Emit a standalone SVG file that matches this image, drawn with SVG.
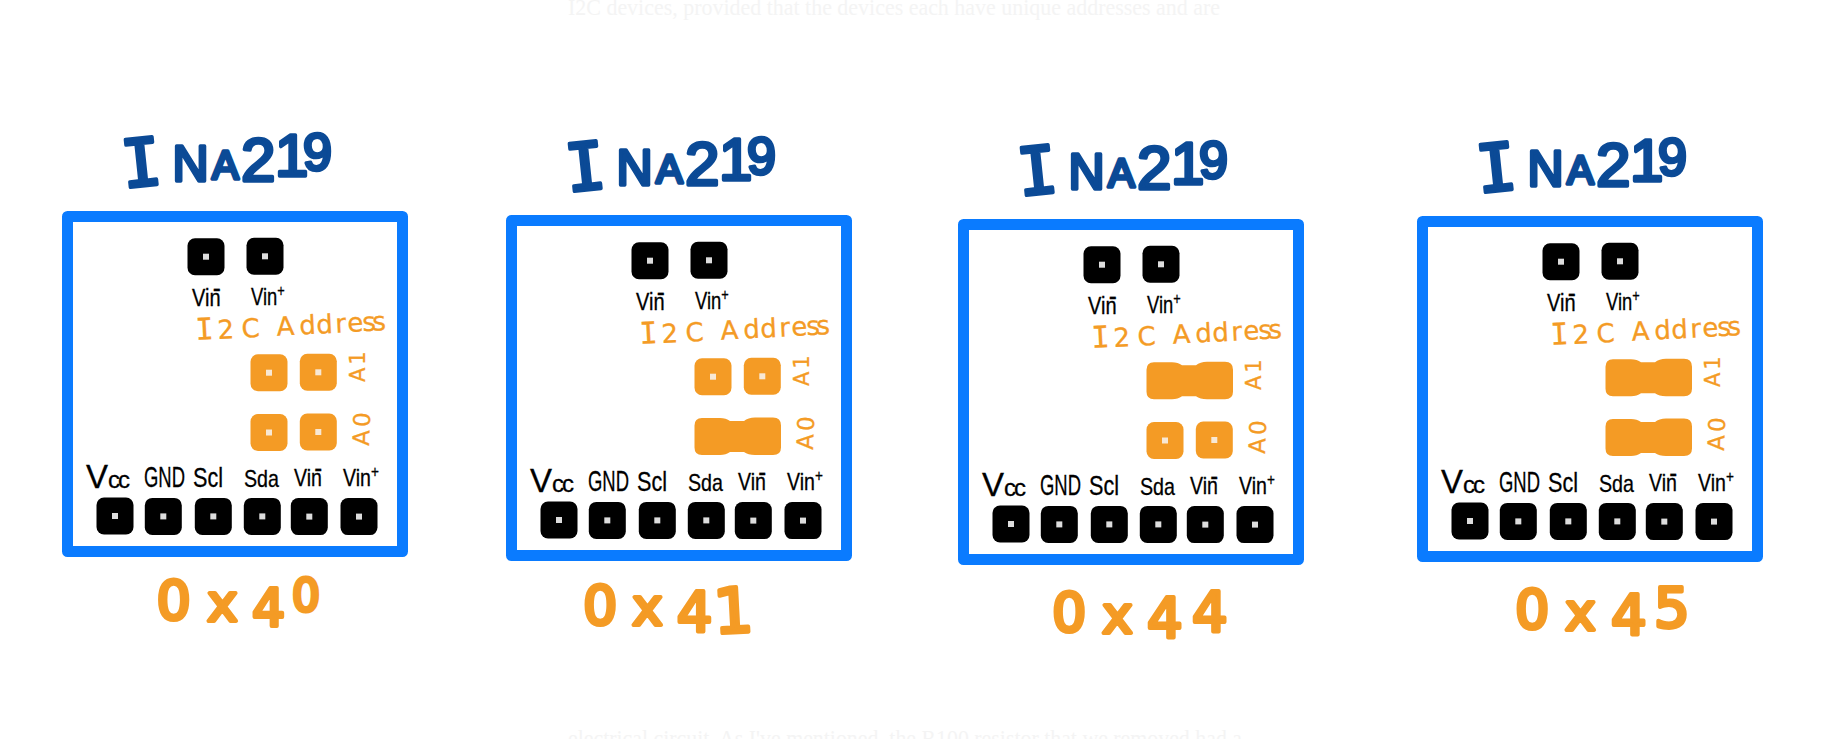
<svg xmlns="http://www.w3.org/2000/svg" width="1848" height="739" viewBox="0 0 1848 739">
<style>
text{font-family:"Liberation Sans",Arial,sans-serif}
.faint{font-family:"Liberation Serif","Times New Roman",serif;font-size:23px;fill:#f4f4f4}
.board{fill:#fff;stroke:#0a7bff;stroke-width:11;stroke-linejoin:round}
.title{fill:#0b4a96;stroke:#0b4a96;stroke-width:3.5;stroke-linejoin:round}
.addr{font-family:"DejaVu Sans",sans-serif;fill:#f49b25;stroke:#f49b25;stroke-width:4;stroke-linejoin:round}
.mono{font-family:"DejaVu Sans Mono",monospace}
.lbl{fill:#000;stroke:#000;stroke-width:.3}
.sup{font-size:16px}
.mn{font-size:28px}
.i2c{font-family:"DejaVu Sans",sans-serif;fill:#f49b25;font-size:26px;stroke:#f49b25;stroke-width:.3}
.ax{font-family:"DejaVu Sans",sans-serif;fill:#f49b25;stroke:#f49b25;stroke-width:.3;letter-spacing:3px}
</style>
<defs>
<g id="padB"><rect x="-18.5" y="-18.5" width="37" height="37" rx="7.5" fill="#000"/><rect x="-3" y="-3" width="6" height="6" fill="#ddd"/></g>
<g id="padO"><rect x="-18.5" y="-18.5" width="37" height="37" rx="7.5" fill="#f49b25"/><rect x="-3" y="-3" width="6" height="6" fill="#f8e8d4"/></g>
<path id="jump" fill="#f49b25" d="M-11,-18.5H7Q13,-18.5 17,-15.5H31Q35,-19 42,-19H60Q68,-19 68,-11V11Q68,18.5 60,18.5H42Q35,18.5 31,15.5H17Q13,18.5 7,18.5H-11Q-18.5,18.5 -18.5,11V-11Q-18.5,-18.5 -11,-18.5Z"/>
</defs>
<rect width="1848" height="739" fill="#fff"/>
<text class="faint" x="568" y="15" textLength="652" lengthAdjust="spacingAndGlyphs">I2C devices, provided that the devices each have unique addresses and are</text>
<text class="faint" x="568" y="746" textLength="674" lengthAdjust="spacingAndGlyphs">electrical circuit. As I've mentioned, the R100 resistor that we removed had a</text>

<g id="connectors"/>

<g id="board-0x40">
<rect class="board" x="67.5" y="216.5" width="335" height="335"/>
<text class="title"><tspan class="mono" x="124" y="188" font-size="66" rotate="-6">I</tspan><tspan x="172.5" y="181" font-size="50">N</tspan><tspan x="212" y="179" font-size="40">A</tspan><tspan x="241" y="181" font-size="62">2</tspan><tspan x="275" y="176" font-size="60">1</tspan><tspan x="303" y="170" font-size="52">9</tspan></text>
<use href="#padB" x="206" y="256.7"/><use href="#padB" x="265" y="256.3"/>
<text class="lbl" font-size="23" transform="translate(192,306) scale(.87,1)">Vin<tspan class="mn" dx="-9" dy="-9">-</tspan></text>
<text class="lbl" font-size="23" transform="translate(251,305) scale(.8,1)">Vin<tspan class="sup" dy="-9">+</tspan></text>
<text class="i2c" transform="translate(197,340) rotate(-3)" x="-1 21 45 70 80 103 120 139 151 166 176"><tspan class="mono" font-size="30">I</tspan>2C Address</text>
<text class="ax" font-size="21" transform="translate(365,382) rotate(-90)">A1</text>
<text class="ax" font-size="23" transform="translate(369,446) rotate(-88)">A0</text>
<use href="#padO" x="269" y="372.7"/><use href="#padO" x="318.3" y="372.3"/>
<use href="#padO" x="269" y="432.5"/><use href="#padO" x="318.3" y="432"/>
<text class="lbl" font-size="24" x="86 108 118" y="488"><tspan font-size="33">V</tspan>cc</text>
<text class="lbl" x="144" y="487" font-size="30" textLength="41" lengthAdjust="spacingAndGlyphs">GND</text>
<text class="lbl" x="193" y="487" font-size="27" textLength="30" lengthAdjust="spacingAndGlyphs">Scl</text>
<text class="lbl" x="244" y="487" font-size="24" textLength="35" lengthAdjust="spacingAndGlyphs">Sda</text>
<text class="lbl" font-size="23" transform="translate(294,486) scale(.85,1)">Vin<tspan class="mn" dx="-9" dy="-9">-</tspan></text>
<text class="lbl" font-size="23" transform="translate(343,486) scale(.85,1)">Vin<tspan class="sup" dy="-9">+</tspan></text>
<use href="#padB" x="115" y="516"/><use href="#padB" x="163.3" y="516.4"/><use href="#padB" x="213.3" y="516.4"/><use href="#padB" x="262.3" y="516.4"/><use href="#padB" x="309.3" y="516.6"/><use href="#padB" x="359" y="516.6"/>
</g>

<g id="board-0x41" transform="translate(444,4)">
<rect class="board" x="67.5" y="216.5" width="335" height="335"/>
<text class="title"><tspan class="mono" x="124" y="188" font-size="66" rotate="-6">I</tspan><tspan x="172.5" y="181" font-size="50">N</tspan><tspan x="212" y="179" font-size="40">A</tspan><tspan x="241" y="181" font-size="62">2</tspan><tspan x="275" y="176" font-size="60">1</tspan><tspan x="303" y="170" font-size="52">9</tspan></text>
<use href="#padB" x="206" y="256.7"/><use href="#padB" x="265" y="256.3"/>
<text class="lbl" font-size="23" transform="translate(192,306) scale(.87,1)">Vin<tspan class="mn" dx="-9" dy="-9">-</tspan></text>
<text class="lbl" font-size="23" transform="translate(251,305) scale(.8,1)">Vin<tspan class="sup" dy="-9">+</tspan></text>
<text class="i2c" transform="translate(197,340) rotate(-3)" x="-1 21 45 70 80 103 120 139 151 166 176"><tspan class="mono" font-size="30">I</tspan>2C Address</text>
<text class="ax" font-size="21" transform="translate(365,382) rotate(-90)">A1</text>
<text class="ax" font-size="23" transform="translate(369,446) rotate(-88)">A0</text>
<use href="#padO" x="269" y="372.7"/><use href="#padO" x="318.3" y="372.3"/>
<use href="#jump" x="269" y="432.5"/>
<text class="lbl" font-size="24" x="86 108 118" y="488"><tspan font-size="33">V</tspan>cc</text>
<text class="lbl" x="144" y="487" font-size="30" textLength="41" lengthAdjust="spacingAndGlyphs">GND</text>
<text class="lbl" x="193" y="487" font-size="27" textLength="30" lengthAdjust="spacingAndGlyphs">Scl</text>
<text class="lbl" x="244" y="487" font-size="24" textLength="35" lengthAdjust="spacingAndGlyphs">Sda</text>
<text class="lbl" font-size="23" transform="translate(294,486) scale(.85,1)">Vin<tspan class="mn" dx="-9" dy="-9">-</tspan></text>
<text class="lbl" font-size="23" transform="translate(343,486) scale(.85,1)">Vin<tspan class="sup" dy="-9">+</tspan></text>
<use href="#padB" x="115" y="516"/><use href="#padB" x="163.3" y="516.4"/><use href="#padB" x="213.3" y="516.4"/><use href="#padB" x="262.3" y="516.4"/><use href="#padB" x="309.3" y="516.6"/><use href="#padB" x="359" y="516.6"/>
</g>

<g id="board-0x44" transform="translate(896,8)">
<rect class="board" x="67.5" y="216.5" width="335" height="335"/>
<text class="title"><tspan class="mono" x="124" y="188" font-size="66" rotate="-6">I</tspan><tspan x="172.5" y="181" font-size="50">N</tspan><tspan x="212" y="179" font-size="40">A</tspan><tspan x="241" y="181" font-size="62">2</tspan><tspan x="275" y="176" font-size="60">1</tspan><tspan x="303" y="170" font-size="52">9</tspan></text>
<use href="#padB" x="206" y="256.7"/><use href="#padB" x="265" y="256.3"/>
<text class="lbl" font-size="23" transform="translate(192,306) scale(.87,1)">Vin<tspan class="mn" dx="-9" dy="-9">-</tspan></text>
<text class="lbl" font-size="23" transform="translate(251,305) scale(.8,1)">Vin<tspan class="sup" dy="-9">+</tspan></text>
<text class="i2c" transform="translate(197,340) rotate(-3)" x="-1 21 45 70 80 103 120 139 151 166 176"><tspan class="mono" font-size="30">I</tspan>2C Address</text>
<text class="ax" font-size="21" transform="translate(365,382) rotate(-90)">A1</text>
<text class="ax" font-size="23" transform="translate(369,446) rotate(-88)">A0</text>
<use href="#jump" x="269" y="372.7"/>
<use href="#padO" x="269" y="432.5"/><use href="#padO" x="318.3" y="432"/>
<text class="lbl" font-size="24" x="86 108 118" y="488"><tspan font-size="33">V</tspan>cc</text>
<text class="lbl" x="144" y="487" font-size="30" textLength="41" lengthAdjust="spacingAndGlyphs">GND</text>
<text class="lbl" x="193" y="487" font-size="27" textLength="30" lengthAdjust="spacingAndGlyphs">Scl</text>
<text class="lbl" x="244" y="487" font-size="24" textLength="35" lengthAdjust="spacingAndGlyphs">Sda</text>
<text class="lbl" font-size="23" transform="translate(294,486) scale(.85,1)">Vin<tspan class="mn" dx="-9" dy="-9">-</tspan></text>
<text class="lbl" font-size="23" transform="translate(343,486) scale(.85,1)">Vin<tspan class="sup" dy="-9">+</tspan></text>
<use href="#padB" x="115" y="516"/><use href="#padB" x="163.3" y="516.4"/><use href="#padB" x="213.3" y="516.4"/><use href="#padB" x="262.3" y="516.4"/><use href="#padB" x="309.3" y="516.6"/><use href="#padB" x="359" y="516.6"/>
</g>

<g id="board-0x45" transform="translate(1355,5)">
<rect class="board" x="67.5" y="216.5" width="335" height="335"/>
<text class="title"><tspan class="mono" x="124" y="188" font-size="66" rotate="-6">I</tspan><tspan x="172.5" y="181" font-size="50">N</tspan><tspan x="212" y="179" font-size="40">A</tspan><tspan x="241" y="181" font-size="62">2</tspan><tspan x="275" y="176" font-size="60">1</tspan><tspan x="303" y="170" font-size="52">9</tspan></text>
<use href="#padB" x="206" y="256.7"/><use href="#padB" x="265" y="256.3"/>
<text class="lbl" font-size="23" transform="translate(192,306) scale(.87,1)">Vin<tspan class="mn" dx="-9" dy="-9">-</tspan></text>
<text class="lbl" font-size="23" transform="translate(251,305) scale(.8,1)">Vin<tspan class="sup" dy="-9">+</tspan></text>
<text class="i2c" transform="translate(197,340) rotate(-3)" x="-1 21 45 70 80 103 120 139 151 166 176"><tspan class="mono" font-size="30">I</tspan>2C Address</text>
<text class="ax" font-size="21" transform="translate(365,382) rotate(-90)">A1</text>
<text class="ax" font-size="23" transform="translate(369,446) rotate(-88)">A0</text>
<use href="#jump" x="269" y="372.7"/>
<use href="#jump" x="269" y="432.5"/>
<text class="lbl" font-size="24" x="86 108 118" y="488"><tspan font-size="33">V</tspan>cc</text>
<text class="lbl" x="144" y="487" font-size="30" textLength="41" lengthAdjust="spacingAndGlyphs">GND</text>
<text class="lbl" x="193" y="487" font-size="27" textLength="30" lengthAdjust="spacingAndGlyphs">Scl</text>
<text class="lbl" x="244" y="487" font-size="24" textLength="35" lengthAdjust="spacingAndGlyphs">Sda</text>
<text class="lbl" font-size="23" transform="translate(294,486) scale(.85,1)">Vin<tspan class="mn" dx="-9" dy="-9">-</tspan></text>
<text class="lbl" font-size="23" transform="translate(343,486) scale(.85,1)">Vin<tspan class="sup" dy="-9">+</tspan></text>
<use href="#padB" x="115" y="516"/><use href="#padB" x="163.3" y="516.4"/><use href="#padB" x="213.3" y="516.4"/><use href="#padB" x="262.3" y="516.4"/><use href="#padB" x="309.3" y="516.6"/><use href="#padB" x="359" y="516.6"/>
</g>

<g id="address-labels">
<text class="addr"><tspan x="156.5" y="618.5" font-size="54">0</tspan><tspan x="207" y="620.5" font-size="52">x</tspan><tspan x="252" y="625.5" font-size="52">4</tspan><tspan x="292" y="610.5" font-size="44">0</tspan></text>
<text class="addr"><tspan x="583" y="623.5" font-size="54">0</tspan><tspan x="632" y="625" font-size="52">x</tspan><tspan x="676.7" y="630.5" font-size="56">4</tspan><tspan x="714.7" y="633.5" font-size="62" rotate="-3">1</tspan></text>
<text class="addr"><tspan x="1052" y="630.5" font-size="54">0</tspan><tspan x="1102" y="633" font-size="52">x</tspan><tspan x="1147" y="636.5" font-size="56">4</tspan><tspan x="1192" y="630.5" font-size="56">4</tspan></text>
<text class="addr"><tspan x="1515" y="627.5" font-size="54">0</tspan><tspan x="1565" y="630" font-size="52">x</tspan><tspan x="1611" y="633.5" font-size="56">4</tspan><tspan x="1654" y="626.5" font-size="56">5</tspan></text>
</g>
</svg>
